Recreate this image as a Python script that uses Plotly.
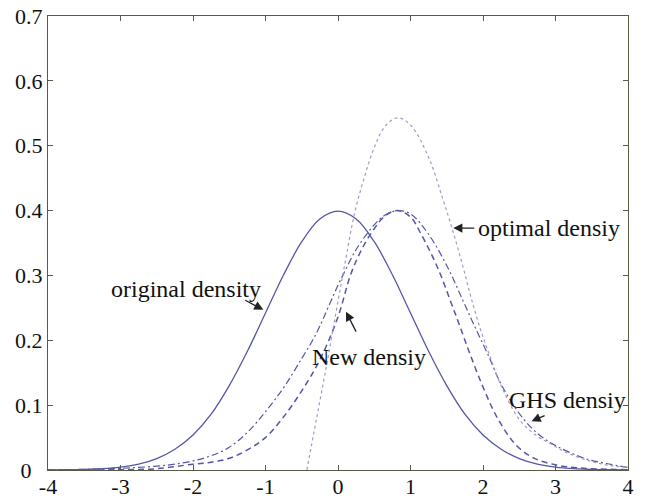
import plotly.graph_objects as go

# ---- data ----
x_orig = [-4, -3.75, -3.5, -3.25, -3, -2.75, -2.5, -2.25, -2, -1.75, -1.5, -1.25, -1, -0.75, -0.5, -0.25,
          0, 0.25, 0.5, 0.75, 1, 1.25, 1.5, 1.75, 2, 2.25, 2.5, 2.75, 3, 3.25, 3.5, 3.75, 4]
y_orig = [0.0001, 0.0004, 0.0009, 0.002, 0.0044, 0.009, 0.0175, 0.032, 0.054, 0.086, 0.130, 0.183, 0.242, 0.301, 0.352, 0.387,
          0.399, 0.387, 0.352, 0.301, 0.242, 0.183, 0.130, 0.086, 0.054, 0.032, 0.0175, 0.009, 0.0044, 0.002, 0.0009, 0.0004, 0.0001]

x_new = [-4, -3.5, -3, -2.5, -2, -1.75, -1.5, -1.25, -1, -0.75, -0.5, -0.25, 0, 0.18, 0.35, 0.5, 0.65, 0.82,
         1.0, 1.14, 1.37, 1.56, 1.67, 1.81, 2.0, 2.2, 2.46, 2.71, 3.0, 3.25, 3.5, 4]
y_new = [0.0, 0.0001, 0.0004, 0.002, 0.009, 0.012, 0.018, 0.031, 0.050, 0.082, 0.122, 0.170, 0.236, 0.303, 0.345, 0.372, 0.392, 0.400,
         0.390, 0.365, 0.313, 0.258, 0.225, 0.182, 0.128, 0.080, 0.038, 0.018, 0.008, 0.004, 0.002, 0.0005]

x_ghs = [-4, -3.5, -3, -2.5, -2.25, -2, -1.75, -1.5, -1.25, -1, -0.75, -0.5, -0.35, -0.25, 0, 0.08, 0.25, 0.5, 0.65, 0.82,
         1.0, 1.24, 1.51, 1.72, 1.87, 2.06, 2.27, 2.57, 2.8, 3.03, 3.4, 3.7, 4]
y_ghs = [0.0003, 0.001, 0.0025, 0.006, 0.009, 0.014, 0.022, 0.035, 0.058, 0.090, 0.127, 0.172, 0.200, 0.222, 0.285, 0.303, 0.340, 0.378, 0.393, 0.400,
         0.395, 0.365, 0.313, 0.262, 0.225, 0.180, 0.128, 0.077, 0.052, 0.036, 0.018, 0.010, 0.004]

x_opt = [-0.43, -0.3, -0.15, 0, 0.11, 0.225, 0.36, 0.5, 0.65, 0.82, 1.0, 1.25, 1.44, 1.58, 1.72, 1.83, 1.95, 2.09, 2.25,
         2.5, 2.75, 2.94, 3.17, 3.5, 3.75, 4]
y_opt = [0.0, 0.077, 0.166, 0.260, 0.327, 0.394, 0.450, 0.497, 0.530, 0.543, 0.532, 0.482, 0.420, 0.370, 0.315, 0.268, 0.222, 0.177, 0.130,
         0.078, 0.052, 0.040, 0.026, 0.013, 0.007, 0.004]

x_ticks = [-4, -3, -2, -1, 0, 1, 2, 3, 4]
y_ticks = [0, 0.1, 0.2, 0.3, 0.4, 0.5, 0.6, 0.7]
y_tick_text = ["0\u00a0\u00a0", "0.1", "0.2", "0.3", "0.4", "0.5", "0.6", "0.7"]

# label text, text x, text y, x-anchor, arrow tip x, tip y, arrow tail x, tail y
labels = [
    ("original density", -2.10, 0.279, "center", -1.03, 0.247, -1.30, 0.263),
    ("New densiy", 0.43, 0.175, "center", 0.11, 0.244, 0.26, 0.211),
    ("optimal densiy", 1.91, 0.373, "left", 1.59, 0.373, 1.90, 0.373),
    ("GHS densiy", 3.17, 0.108, "center", 2.67, 0.075, 2.87, 0.085),
]

line_col = "#5656a6"
dot_col = "#9c9cc8"
font_fam = "Liberation Serif"

fig = go.Figure()
fig.add_trace(go.Scatter(x=x_orig, y=y_orig, mode="lines", line=dict(color=line_col, width=1.3, shape="spline"),
                         name="original density"))
fig.add_trace(go.Scatter(x=x_new, y=y_new, mode="lines", line=dict(color=line_col, width=1.5, dash="6px,4px", shape="spline"),
                         name="New densiy"))
fig.add_trace(go.Scatter(x=x_ghs, y=y_ghs, mode="lines", line=dict(color=line_col, width=1.2, dash="7px,3px,2px,3px", shape="spline"),
                         name="GHS densiy"))
fig.add_trace(go.Scatter(x=x_opt, y=y_opt, mode="lines", line=dict(color=dot_col, width=1.2, dash="dot", shape="spline"),
                         name="optimal densiy"))

annotations = []
for text, tx, ty, anchor, hx, hy, sx, sy in labels:
    annotations.append(dict(x=tx, y=ty, text=text, showarrow=False, xref="x", yref="y", xanchor=anchor,
                            font=dict(family=font_fam, size=24, color="#111111")))
    annotations.append(dict(x=hx, y=hy, ax=sx, ay=sy, axref="x", ayref="y", xref="x", yref="y", text="",
                            showarrow=True, arrowhead=2, arrowsize=1.4, arrowwidth=1.3, arrowcolor="#222222"))

axis_common = dict(showline=True, linecolor="#5a5a48", linewidth=1.3, mirror="ticks", ticks="inside",
                   ticklen=5, tickcolor="#5a5a48", showgrid=False, zeroline=False, automargin=False,
                   ticklabeloverflow="allow",
                   tickfont=dict(family=font_fam, size=22, color="#111111"))

fig.update_layout(
    width=646, height=498,
    margin=dict(l=48, r=18, t=16, b=28),
    paper_bgcolor="white", plot_bgcolor="white",
    showlegend=False,
    annotations=annotations,
    xaxis=dict(range=[-4, 4], tickvals=x_ticks, ticktext=[str(v) for v in x_ticks], ticklabelstandoff=-4,
               **axis_common),
    yaxis=dict(range=[0, 0.7], tickvals=y_ticks, ticktext=y_tick_text, **axis_common),
)

# remove the default page margin so the figure fills the window exactly
fig.write_html("out.html", config={"displayModeBar": False},
               post_script="document.body.style.margin='0';document.body.style.overflow='hidden';")
